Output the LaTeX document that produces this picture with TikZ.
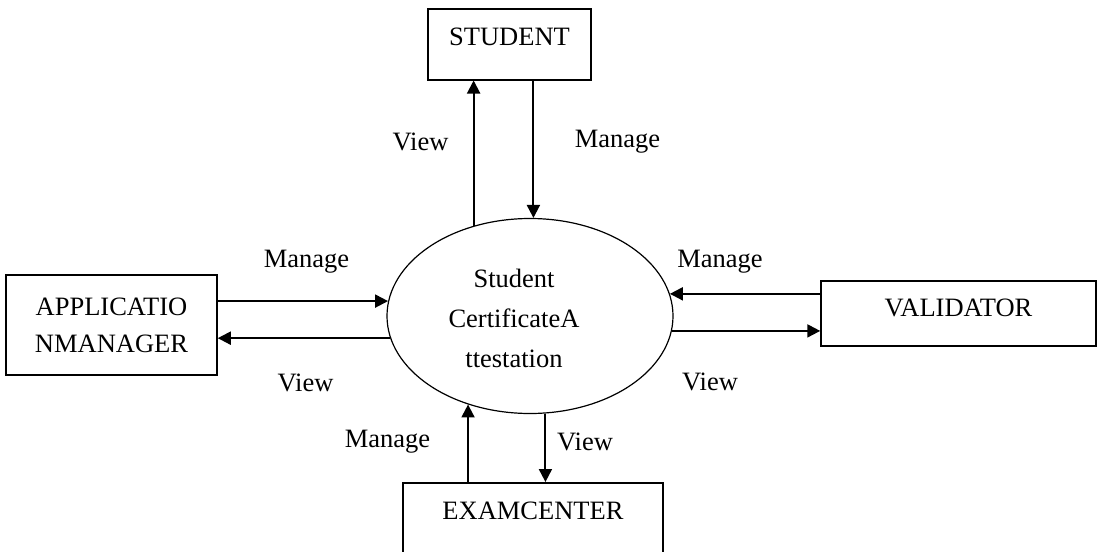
\documentclass[tikz,border=0pt]{standalone}
\usepackage{fontspec}
\setmainfont{Liberation Serif}
\usetikzlibrary{shapes.geometric, arrows.meta, positioning}

\begin{document}
\begin{tikzpicture}[x=0.5pt, y=-0.5pt]
    \tikzset{
        entity/.style={rectangle, draw=black, line width=0.75pt, text centered, inner ysep=5pt, font=\fontsize{13.25}{18.5}\selectfont},
        process/.style={ellipse, draw=black, line width=0.6pt, minimum width=143pt, minimum height=97.5pt, inner sep=0pt},
        flow/.style={draw=black, line width=1pt, -{Triangle[length=6.5pt, width=6.5pt]}},
        flowlabel/.style={font=\fontsize{13.25}{16}\selectfont, inner sep=0pt}
    }
    \clip (0,0) rectangle (1099,552);
    \node [process] (proc) at (530,316) {};
    \node [align=center, font=\fontsize{13.25}{20}\selectfont] (proctext) at (514,318) {Student\\CertificateA\\ttestation};
    \node [entity, anchor=north, minimum width=81.5pt, text height=13.4pt, text depth=12.1pt] (student) at (509.5,8) {STUDENT};
    \node [entity, align=center, minimum width=105.5pt, minimum height=50pt] (appmgr) at (111.5,325) {APPLICATIO\\NMANAGER};
    \node [entity, anchor=north, minimum width=137.5pt, text height=12.9pt, text depth=9.6pt] (validator) at (958.5,280) {VALIDATOR};
    \node [entity, anchor=north, minimum width=130pt, text height=13.5pt, text depth=25.5pt] (exam) at (533,482) {EXAMCENTER};

    \draw [flow] (proc.122) -- (proc.122 |- student.south);
    \draw [flow] (student.south -| proc.88) -- (proc.88);
    \draw [flow] (appmgr.east |- proc.174) -- (proc.174);
    \draw [flow] (proc.189) -- (appmgr.east |- proc.189);
    \draw [flow] (validator.west |- proc.9) -- (proc.9);
    \draw [flow] (proc.354) -- (validator.west |- proc.354);
    \draw [flow] (exam.north -| proc.235) -- (proc.235);
    \draw [flow] (proc.279) -- (exam.north -| proc.279);

    \node [flowlabel] (viewS) at (420.5,142) {View};
    \node [flowlabel] (manageS) at (617.5,142) {Manage};
    \node [flowlabel] (manageA) at (306.5,262) {Manage};
    \node [flowlabel] (viewA) at (305.5,383) {View};
    \node [flowlabel] (manageV) at (720,262) {Manage};
    \node [flowlabel] (viewV) at (710,382) {View};
    \node [flowlabel] (manageE) at (387.5,442) {Manage};
    \node [flowlabel] (viewE) at (585,442) {View};
\end{tikzpicture}
\end{document}
